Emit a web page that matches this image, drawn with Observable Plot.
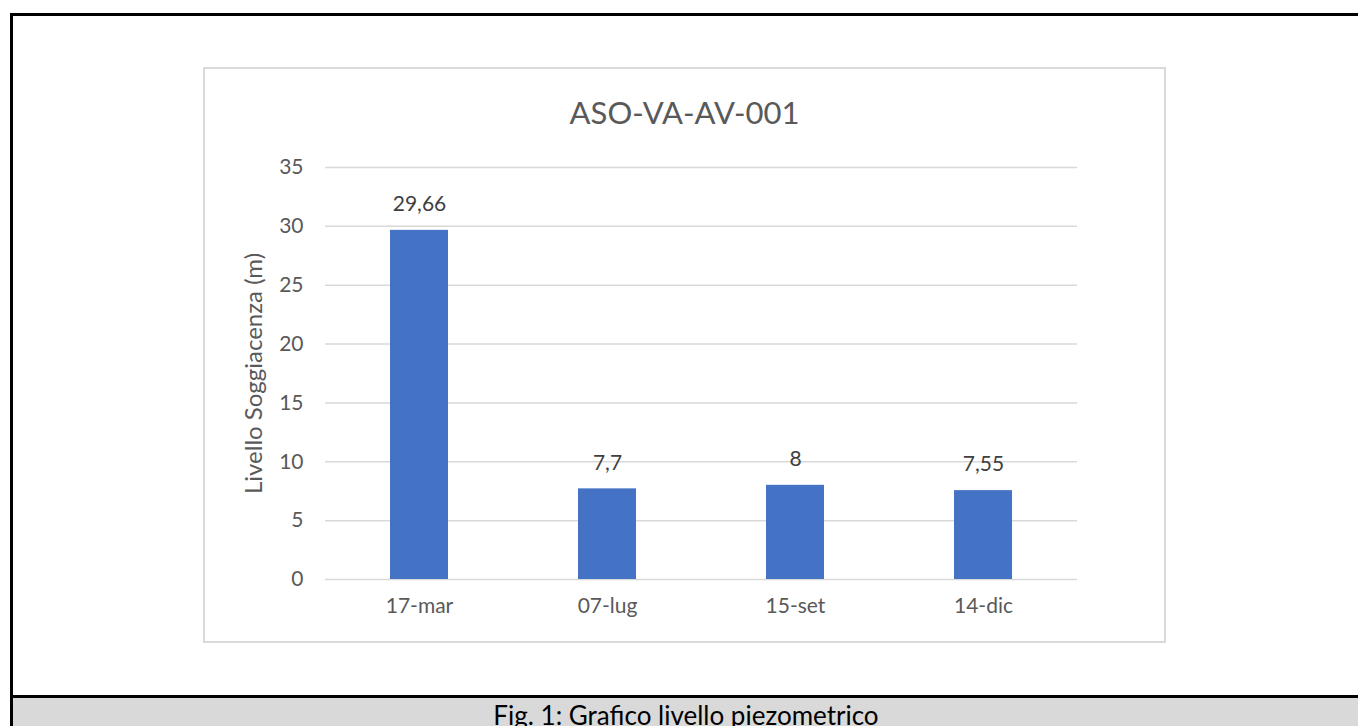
<!DOCTYPE html>
<html>
<head>
<meta charset="utf-8">
<script src="https://cdn.jsdelivr.net/npm/d3@7"></script>
<script src="https://cdn.jsdelivr.net/npm/@observablehq/plot@0.6"></script>
<style>
  html, body { margin: 0; padding: 0; background: #fff; }
  #page { position: relative; width: 1358px; height: 726px; overflow: hidden; font-family: Lato, "Open Sans", sans-serif; }
  #outer { position: absolute; left: 10px; top: 13px; width: 1400px; height: 800px; border-left: 3px solid #000; border-top: 3px solid #000; box-sizing: border-box; }
  #box { position: absolute; left: 203px; top: 67px; width: 963px; height: 576px; border: 2px solid #d9d9d9; box-sizing: border-box; }
  #title { position: absolute; left: 203px; width: 963px; top: 92px; text-align: center; font-size: 31px; line-height: 40px; color: #595959; }
  #chart { position: absolute; left: 0; top: 0; }
  #capline { position: absolute; left: 10px; top: 695px; width: 1400px; height: 3px; background: #000; }
  #caption { position: absolute; left: 13px; top: 698px; width: 1400px; height: 40px; background: #d9d9d9; }
  #captext { position: absolute; left: 0; width: 1372px; top: 700px; text-align: center; font-size: 26px; line-height: 30px; color: #000; white-space: nowrap; }
</style>
</head>
<body>
<div id="page">
  <div id="outer"></div>
  <div id="box"></div>
  <div id="chart"></div>
  <div id="title">ASO-VA-AV-001</div>
  <div id="capline"></div>
  <div id="caption"></div>
  <div id="captext">Fig. 1: Grafico livello piezometrico</div>
</div>
<script>
const dates = ["17-mar", "07-lug", "15-set", "14-dic"];
const levels = [29.66, 7.7, 8, 7.55];
const yTicks = [0, 5, 10, 15, 20, 25, 30, 35];
const yLabel = "Livello Soggiacenza (m)";

const data = dates.map((d, i) => ({date: d, value: levels[i]}));
const fmt = v => String(v).replace(".", ",");

const chart = Plot.plot({
  width: 1358,
  height: 690,
  marginLeft: 325,
  marginRight: 281,
  marginTop: 167,
  marginBottom: 111,
  style: {fontFamily: "Lato, 'Open Sans', sans-serif", fontSize: "21px", color: "#595959", background: "transparent"},
  x: {domain: dates, paddingInner: 0.69, paddingOuter: 0.345, label: null},
  y: {domain: [0, 35]},
  marks: [
    Plot.gridY(yTicks, {stroke: "#d9d9d9", strokeOpacity: 1, strokeWidth: 1.5}),
    Plot.barY(data, {x: "date", y: "value", fill: "#4472c4"}),
    Plot.text(data, {x: "date", y: "value", text: d => fmt(d.value), dy: -26, fill: "#404040", fontSize: 21}),
    Plot.axisX({tickSize: 0, tickPadding: 19, fontSize: 21, fill: "#595959", label: null}),
    Plot.axisY({ticks: yTicks, tickSize: 0, tickPadding: 22, fontSize: 21, fill: "#595959", label: null}),
    Plot.axisY({ticks: [], tickSize: 0, label: yLabel, labelAnchor: "center", labelArrow: "none", labelOffset: 81, fontSize: 24, fill: "#595959"})
  ]
});
document.getElementById("chart").appendChild(chart);
</script>
</body>
</html>
